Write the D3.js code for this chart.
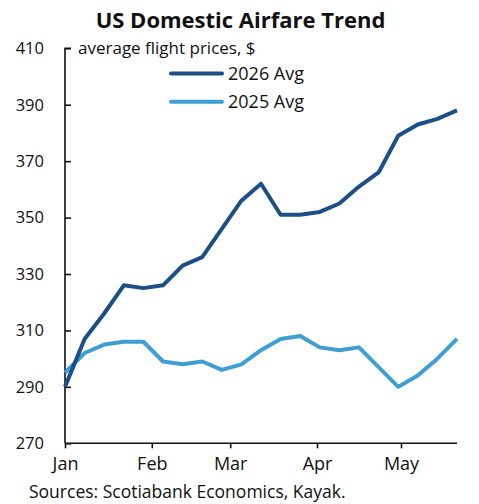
<!DOCTYPE html>
<html>
<head>
<meta charset="utf-8">
<script src="https://cdn.jsdelivr.net/npm/d3@7"></script>
<style>
  html, body { margin: 0; padding: 0; background: #fff; }
  svg { display: block; }
  text { font-family: "Open Sans", "Noto Sans", sans-serif; fill: #111; }
</style>
</head>
<body>
<svg id="chart" width="479" height="504"></svg>
<script>
// Weekly observations, first week of January through late May
const weekStarts = ["2026-01-01","2026-01-08","2026-01-15","2026-01-22","2026-01-29",
  "2026-02-05","2026-02-12","2026-02-19","2026-02-26","2026-03-05","2026-03-12",
  "2026-03-19","2026-03-26","2026-04-02","2026-04-09","2026-04-16","2026-04-23",
  "2026-04-30","2026-05-07","2026-05-14","2026-05-21"];
const avg2026 = [290, 307, 316, 326, 325, 326, 333, 336, 346, 356, 362,
  351, 351, 352, 355, 361, 366, 379, 383, 385, 388];
const avg2025 = [295, 302, 305, 306, 306, 299, 298, 299, 296, 298, 303,
  307, 308, 304, 303, 304, 297, 290, 294, 300, 307];
const yTicks = [270, 290, 310, 330, 350, 370, 390, 410];
const monthTicks = ["2026-01-01","2026-02-01","2026-03-01","2026-04-01","2026-05-01"];
const seriesNames = ["2026 Avg", "2025 Avg"];
const seriesColors = ["#1d4f86", "#3f9fd4"];

const parse = d3.utcParse("%Y-%m-%d");
const dates = weekStarts.map(parse);

const svg = d3.select("#chart");
const plotLeft = 65, plotRight = 457, plotTop = 48.3, plotBottom = 443.3;

const x = d3.scaleUtc().domain([dates[0], dates[dates.length - 1]]).range([plotLeft, plotRight]);
const y = d3.scaleLinear().domain([270, 410]).range([plotBottom, plotTop]);

// Title
svg.append("text")
  .attr("x", 240.5).attr("y", 28)
  .attr("text-anchor", "middle")
  .style("font-size", "22px").style("font-weight", "bold")
  .text("US Domestic Airfare Trend");

// Y axis with inward ticks
const yAxis = svg.append("g")
  .attr("transform", `translate(${plotLeft},0)`)
  .call(d3.axisRight(y).tickValues(yTicks).tickSize(6).tickFormat(d3.format("d")));
yAxis.select(".domain").attr("stroke", "#111").attr("stroke-width", 1.6).attr("d", `M6,${plotTop}H0V${plotBottom}`);
yAxis.selectAll(".tick line").attr("stroke", "#111").attr("stroke-width", 1.6);
yAxis.selectAll(".tick text")
  .attr("x", -21).attr("text-anchor", "end")
  .style("font-size", "16.5px").attr("fill", "#111");

// X axis with month ticks
const xAxis = svg.append("g")
  .attr("transform", `translate(0,${plotBottom})`)
  .call(d3.axisBottom(x).tickValues(monthTicks.map(parse)).tickSize(5)
    .tickFormat(d3.utcFormat("%b")));
xAxis.select(".domain").attr("stroke", "#111").attr("stroke-width", 1.6).attr("d", `M${plotLeft},0H${plotRight}`);
xAxis.selectAll(".tick line").attr("stroke", "#111").attr("stroke-width", 1.6);
xAxis.selectAll(".tick text").attr("y", 14).style("font-size", "18px").attr("fill", "#111");

// Units label
svg.append("text")
  .attr("x", 78).attr("y", 54)
  .style("font-size", "17px")
  .text("average flight prices, $");

// Lines (2025 drawn first, 2026 on top)
const line = d3.line().x((d, i) => x(dates[i])).y(d => y(d));
[[avg2025, seriesColors[1]], [avg2026, seriesColors[0]]].forEach(([vals, color]) => {
  svg.append("path")
    .datum(vals)
    .attr("fill", "none")
    .attr("stroke", color)
    .attr("stroke-width", 4)
    .attr("stroke-linejoin", "round")
    .attr("d", line);
});

// Legend
seriesNames.forEach((name, i) => {
  const ly = 73.5 + i * 28.3;
  svg.append("line")
    .attr("x1", 171).attr("x2", 222)
    .attr("y1", ly).attr("y2", ly)
    .attr("stroke", seriesColors[i]).attr("stroke-width", 4)
    .attr("stroke-linecap", "round");
  svg.append("text")
    .attr("x", 228).attr("y", ly + 6.5)
    .style("font-size", "18px")
    .text(name);
});

// Source note
svg.append("text")
  .attr("x", 29).attr("y", 498)
  .style("font-size", "17.5px")
  .text("Sources: Scotiabank Economics, Kayak.");
</script>
</body>
</html>
